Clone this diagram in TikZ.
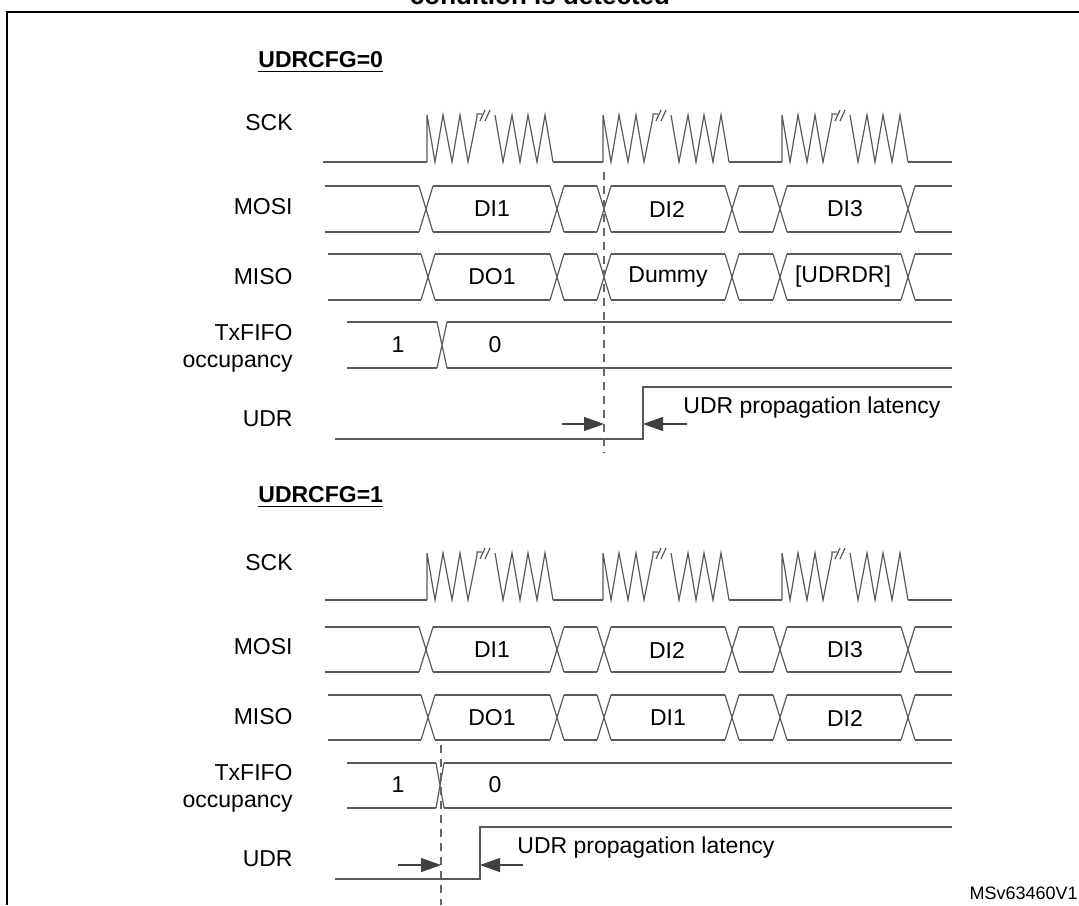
\documentclass[tikz,border=0pt]{standalone}
\usepackage{fontspec}
\setmainfont{Liberation Sans}
\usetikzlibrary{arrows.meta}

\tikzset{
  sig/.style={draw=black!65, line width=0.6pt},
  lbl/.style={inner sep=0pt, font=\fontsize{11.5}{13.5}\selectfont},
  hdr/.style={inner sep=0pt, anchor=west, font=\fontsize{11.5}{13.5}\selectfont\bfseries},
  guide/.style={draw=black!60, line width=0.6pt, dash pattern=on 4pt off 3pt},
  lat/.style={draw=black!75, line width=0.6pt, -{Triangle[length=10pt,width=7pt]}},
}

% one clock burst, x0 and low level
\newcommand\sckburst[2]{%
  \begin{scope}[shift={(#1,#2)}]
    \draw[sig] (0,0) -- (0,-47) -- (8,0) -- (16,-47) -- (25,0) -- (33,-47) -- (41,0)
      -- (50,-45) -- (50,-48) -- (55,-48);
    \draw[sig] (53,-41) -- (58,-52) (58,-41) -- (63,-52);
    \draw[sig] (68,-47) -- (76,0) -- (85,-47) -- (93,0) -- (101,-47) -- (110,0)
      -- (118,-47) -- (126,0);
  \end{scope}}

% bus line: top, bottom, start, end, half width, crossings
\newcommand\busline[6]{%
  \draw[sig] (#3,#1) foreach \c in {#6}{ -- ({\c-#5},#1) ({\c+#5},#1)} -- (#4,#1);
  \draw[sig] (#3,#2) foreach \c in {#6}{ -- ({\c-#5},#2) ({\c+#5},#2)} -- (#4,#2);
  \foreach \c in {#6}
    \draw[sig] ({\c-#5},#1) -- ({\c+#5},#2) ({\c-#5},#2) -- ({\c+#5},#1);}

\begin{document}
\begin{tikzpicture}[x=0.5pt,y=-0.5pt]
\useasboundingbox (0,0) rectangle (1079,905);

% frame and cut title
\draw[line width=1.3pt] (7,905) -- (7,12) -- (1079,12);
\node[inner sep=0pt, anchor=base, font=\fontsize{13}{15}\selectfont\bfseries] (title) at (540,4) {condition is detected};
\node[lbl, anchor=east, font=\fontsize{9}{10}\selectfont] (ref) at (1078,893) {MSv63460V1};

% ---------- UDRCFG=0 ----------
\node[hdr] (cfgA) at (258,62) {\underline{UDRCFG=0}};
\node[lbl, anchor=east] (sckA) at (293,123) {SCK};
\node[lbl, anchor=east] (mosiA) at (293,207) {MOSI};
\node[lbl, anchor=east] (misoA) at (293,277) {MISO};
\node[lbl, anchor=east, align=right] (fifoA) at (293,348) {TxFIFO\\occupancy};
\node[lbl, anchor=east] (udrA) at (293,419) {UDR};

\draw[sig] (323,162) -- (427,162);
\sckburst{427}{162}
\draw[sig] (553,162) -- (603,162);
\sckburst{603}{162}
\draw[sig] (729,162) -- (782,162);
\sckburst{782}{162}
\draw[sig] (908,162) -- (952,162);

\busline{186}{232}{325}{952}{7}{426,557,604,732,780,908}
\busline{254}{300}{328}{952}{7}{428,557,604,732,780,908}
\busline{322}{368}{347}{952}{5}{442}

\node[lbl] (di1A) at (492,209) {DI1};
\node[lbl] (di2A) at (667,209) {DI2};
\node[lbl] (di3A) at (845,209) {DI3};
\node[lbl] (do1A) at (492,277) {DO1};
\node[lbl] (dmyA) at (668,277) {Dummy};
\node[lbl] (udrdrA) at (843,277) {[UDRDR]};
\node[lbl] (oneA) at (398,345) {1};
\node[lbl] (zeroA) at (495,345) {0};

\draw[sig] (335,439) -- (643,439) -- (643,387) -- (952,387);
\coordinate (dtopA) at (604,172);
\coordinate (dbotA) at (604,453);
\draw[guide] (dtopA) -- (dbotA);
\coordinate (edgeA) at (604,424);
\coordinate (riseA) at (643,424);
\coordinate (tailA1) at (562,424);
\coordinate (tailA2) at (687,424);
\draw[lat] (tailA1) -- (edgeA);
\draw[lat] (tailA2) -- (riseA);
\node[lbl, anchor=west] (latA) at (683,408) {UDR propagation latency};

% ---------- UDRCFG=1 ----------
\node[hdr] (cfgB) at (258,497) {\underline{UDRCFG=1}};
\node[lbl, anchor=east] (sckB) at (293,563) {SCK};
\node[lbl, anchor=east] (mosiB) at (293,647) {MOSI};
\node[lbl, anchor=east] (misoB) at (293,717) {MISO};
\node[lbl, anchor=east, align=right] (fifoB) at (293,788) {TxFIFO\\occupancy};
\node[lbl, anchor=east] (udrB) at (293,859) {UDR};

\draw[sig] (325,600) -- (427,600);
\sckburst{427}{600}
\draw[sig] (553,600) -- (603,600);
\sckburst{603}{600}
\draw[sig] (729,600) -- (782,600);
\sckburst{782}{600}
\draw[sig] (908,600) -- (952,600);

\busline{627}{672}{325}{952}{7}{426,557,604,732,780,908}
\busline{695}{740}{328}{952}{7}{428,557,604,732,780,908}
\busline{763}{808}{347}{952}{4}{440}

\node[lbl] (di1B) at (492,650) {DI1};
\node[lbl] (di2B) at (667,650) {DI2};
\node[lbl] (di3B) at (845,650) {DI3};
\node[lbl] (do1B) at (492,718) {DO1};
\node[lbl] (dimB) at (668,718) {DI1};
\node[lbl] (di2mB) at (845,718) {DI2};
\node[lbl] (oneB) at (398,785) {1};
\node[lbl] (zeroB) at (495,785) {0};

\draw[sig] (335,879) -- (480,879) -- (480,827) -- (952,827);
\coordinate (dtopB) at (441,745);
\coordinate (dbotB) at (441,905);
\draw[guide] (dtopB) -- (dbotB);
\coordinate (edgeB) at (441,865);
\coordinate (riseB) at (480,865);
\coordinate (tailB1) at (398,865);
\coordinate (tailB2) at (523,865);
\draw[lat] (tailB1) -- (edgeB);
\draw[lat] (tailB2) -- (riseB);
\node[lbl, anchor=west] (latB) at (517,848) {UDR propagation latency};
\end{tikzpicture}
\end{document}
